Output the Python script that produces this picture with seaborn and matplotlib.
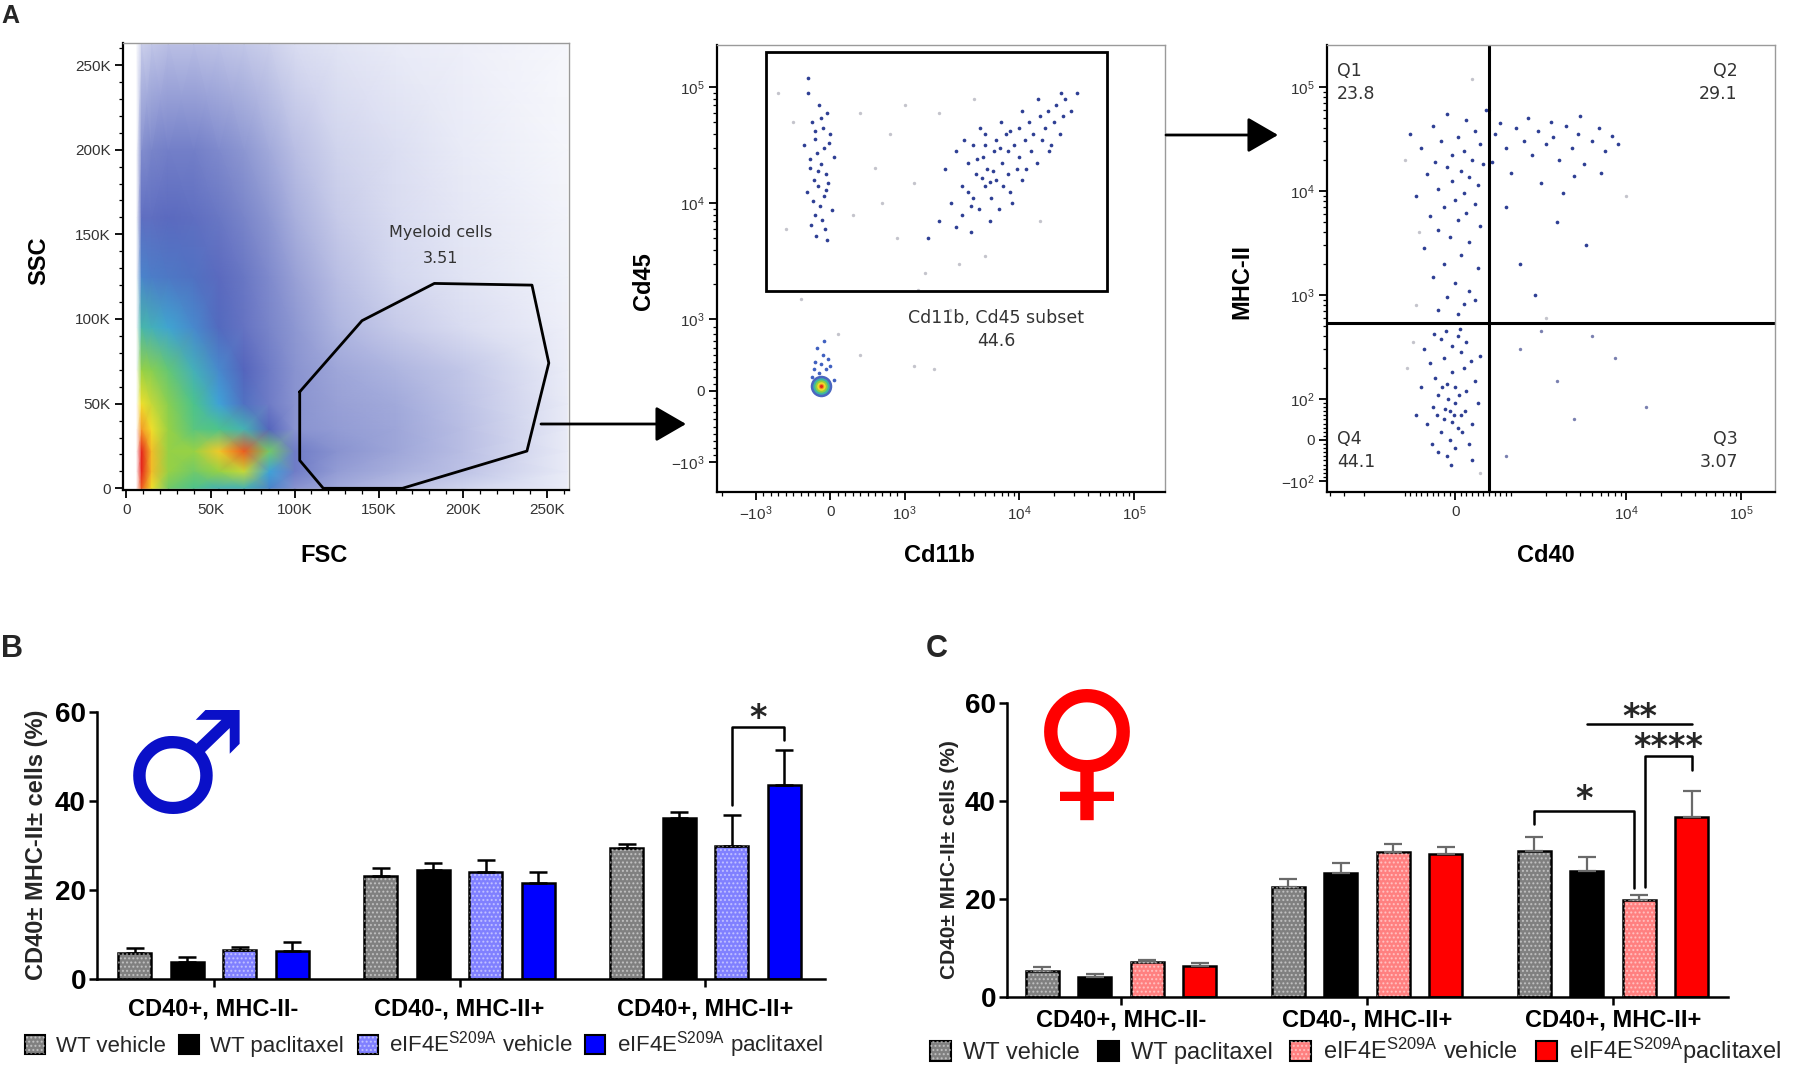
import numpy as np
import pandas as pd
import matplotlib
matplotlib.use("Agg")
import matplotlib.pyplot as plt
import seaborn as sns
from matplotlib.colors import LinearSegmentedColormap
from matplotlib.patches import Patch, Rectangle, FancyArrowPatch
from matplotlib.legend_handler import HandlerTuple
from matplotlib.ticker import FixedLocator, FixedFormatter, NullFormatter

# ===================== DATA: bar charts (panels B, C) =====================
categories = ["CD40+, MHC-II-", "CD40-, MHC-II+", "CD40+, MHC-II+"]
groups = ["WT vehicle", "WT paclitaxel", "eIF4E vehicle", "eIF4E paclitaxel"]
legend_labels_B = ["WT vehicle", "WT paclitaxel",
                   r"eIF4E$^{\mathrm{S209A}}$ vehicle", r"eIF4E$^{\mathrm{S209A}}$ paclitaxel"]
legend_labels_C = ["WT vehicle", "WT paclitaxel",
                   r"eIF4E$^{\mathrm{S209A}}$ vehicle", r"eIF4E$^{\mathrm{S209A}}$paclitaxel"]

male_wt_vehicle = [5.8, 23.1, 29.4]
male_wt_paclitaxel = [3.9, 24.6, 36.1]
male_eif_vehicle = [6.6, 24.1, 30.0]
male_eif_paclitaxel = [6.4, 21.5, 43.7]
male_wt_vehicle_sem = [1.2, 1.9, 0.9]
male_wt_paclitaxel_sem = [1.0, 1.5, 1.4]
male_eif_vehicle_sem = [0.6, 2.6, 6.8]
male_eif_paclitaxel_sem = [2.0, 2.6, 7.7]

female_wt_vehicle = [5.3, 22.5, 29.8]
female_wt_paclitaxel = [4.1, 25.4, 25.7]
female_eif_vehicle = [7.1, 29.5, 19.8]
female_eif_paclitaxel = [6.4, 29.2, 36.8]
female_wt_vehicle_sem = [0.9, 1.6, 2.9]
female_wt_paclitaxel_sem = [0.5, 2.0, 2.8]
female_eif_vehicle_sem = [0.5, 1.8, 1.0]
female_eif_paclitaxel_sem = [0.5, 1.5, 5.2]

# significance: (category idx, left hue, right hue, left leg low, top, right leg low, label, label baseline)
male_brackets = [(2, 2, 3, 39.1, 56.6, 53.7, "*", 56.4)]
female_brackets = [(2, 0, 2, 35.3, 38.0, 22.2, "*", 38.3),
                   (2, 2, 3, 22.4, 49.2, 46.3, "****", 49.0)]
female_lines = [(2, 1, 3, 55.7, "**", 55.0)]

# ===================== DATA: flow cytometry (panel A) =====================
# FSC/SSC density levels (0-10), on a coarse grid (values in K)
fsc_grid_k = [6, 9, 15, 25, 40, 55, 70, 85, 100, 125, 160, 200, 262]
ssc_grid_k = [0, 10, 22, 35, 50, 70, 95, 125, 160, 200, 262]
fsc_ssc_density = [
    [0, 9.5, 8.0, 6.5, 6.0, 5.5, 5.5, 4.5, 3.0, 2.5, 2.1, 1.6, 0.9],
    [0, 10., 8.5, 7.0, 6.5, 7.0, 7.5, 5.0, 3.5, 2.8, 2.4, 2.0, 1.0],
    [0, 10., 8.5, 7.0, 7.0, 8.3, 9.5, 6.5, 3.5, 3.0, 2.6, 2.1, 1.0],
    [0, 9.0, 8.0, 7.0, 6.2, 6.0, 5.5, 4.0, 3.0, 2.8, 2.6, 2.1, 1.0],
    [0, 8.0, 7.5, 6.8, 6.0, 5.0, 4.2, 3.5, 3.0, 2.7, 2.5, 2.0, 1.0],
    [0, 7.0, 6.8, 6.3, 5.4, 4.6, 4.0, 3.5, 3.0, 2.6, 2.3, 1.9, 0.9],
    [0, 5.6, 5.4, 5.1, 4.6, 4.1, 3.7, 3.3, 2.9, 2.3, 1.8, 1.4, 0.8],
    [0, 4.5, 4.4, 4.3, 4.2, 3.9, 3.6, 3.2, 2.7, 2.1, 1.5, 1.2, 0.7],
    [0, 3.8, 3.8, 3.9, 3.8, 3.6, 3.3, 2.9, 2.4, 1.8, 1.4, 1.1, 0.6],
    [0, 3.1, 3.3, 3.4, 3.4, 3.2, 2.9, 2.5, 2.1, 1.6, 1.3, 1.0, 0.5],
    [0, 1.7, 1.9, 2.1, 2.1, 2.0, 1.9, 1.7, 1.4, 1.2, 1.0, 0.8, 0.4],
]
myeloid_gate_fsc_k = [103, 140, 183, 241, 251, 238, 164, 117, 103, 103]
myeloid_gate_ssc_k = [57, 99, 121, 120, 74, 22, 0, 0, 16.5, 57]

# Cd11b / Cd45 events
cd45_strip = [(-300, 90000), (-150, 70000), (-50, 60000), (-250, 50000), (-100, 45000), (0, 40000),
              (-200, 36000), (-350, 32000), (-80, 30000), (-180, 27000), (50, 25000), (-120, 22000),
              (-280, 20000), (-60, 18000), (-220, 16000), (-30, 15000), (-160, 14000), (-320, 12500),
              (-90, 11500), (-240, 10500), (-140, 9500), (20, 8800), (-200, 8000), (-110, 7200),
              (-260, 6500), (-70, 6000), (-190, 5200), (-40, 4800), (-300, 120000), (-130, 55000),
              (-20, 33000), (-270, 24000), (-170, 19000), (-60, 13000), (-210, 42000)]
cd11b_cd45_myeloid_log = [
    (3.2, 3.7), (3.3, 3.85), (3.35, 4.3), (3.4, 4.0), (3.45, 4.45), (3.5, 4.15), (3.5, 3.9),
    (3.55, 4.35), (3.6, 4.05), (3.6, 4.5), (3.62, 4.25), (3.65, 3.95), (3.68, 4.4), (3.7, 4.15),
    (3.7, 4.6), (3.72, 4.3), (3.75, 4.05), (3.78, 4.45), (3.8, 4.2), (3.8, 4.55), (3.82, 3.95),
    (3.85, 4.35), (3.88, 4.6), (3.9, 4.25), (3.9, 4.45), (3.92, 4.1), (3.95, 4.5), (3.98, 4.3),
    (4.0, 4.65), (4.0, 4.4), (4.02, 4.2), (4.05, 4.55), (4.08, 4.7), (4.1, 4.45), (4.12, 4.6),
    (4.15, 4.35), (4.18, 4.75), (4.2, 4.55), (4.22, 4.65), (4.25, 4.8), (4.28, 4.5), (4.3, 4.7),
    (4.32, 4.85), (4.35, 4.6), (4.38, 4.75), (4.4, 4.9), (4.45, 4.8), (4.5, 4.95), (3.45, 3.8),
    (3.58, 3.75), (3.66, 4.65), (3.74, 3.85), (3.84, 4.7), (3.94, 4.0), (4.06, 4.3), (4.16, 4.9),
    (4.26, 4.45), (4.36, 4.95), (3.52, 4.55), (3.7, 4.5), (3.86, 4.15), (4.02, 4.8), (3.55, 4.1),
    (3.63, 4.38), (3.77, 4.28), (3.92, 4.62), (3.67, 4.22), (3.83, 4.48), (3.58, 3.98), (3.74, 4.18)]
cd11b_cd45_sparse = [(-500, 50000), (400, 60000), (800, 40000), (1200, 15000), (2000, 60000),
                     (600, 20000), (300, 8000), (900, 5000), (1500, 2500), (3000, 3000), (-400, 1500),
                     (100, 800), (400, 500), (1200, 350), (1800, 300), (-200, 400), (2500, 1200),
                     (5000, 3500), (700, 10000), (1000, 70000), (-700, 90000), (15000, 7000),
                     (4000, 80000), (1300, 1800), (-600, 6000)]
cd11b_cd45_trail = [(-150, 250), (-60, 300), (-200, 400), (-100, 500), (0, 350), (-250, 200),
                    (50, 150), (-180, 600), (-90, 700), (-30, 450), (-220, 300), (-130, 380)]
cd11b_cd45_core = (-120, 70)

# Cd40 / MHC-II events
mhc_q1 = [(-150, 55000), (200, 48000), (-400, 42000), (350, 38000), (50, 33000), (-250, 30000),
          (450, 28000), (-600, 26000), (150, 24000), (-50, 22000), (300, 20000), (-350, 19000),
          (500, 18000), (-150, 17000), (100, 15500), (-500, 14500), (250, 13500), (-50, 12500),
          (400, 11500), (-300, 10500), (150, 9500), (-700, 9000), (0, 8200), (350, 7500),
          (-200, 7000), (200, 6200), (-450, 5800), (50, 5200), (450, 4600), (-300, 4200),
          (-100, 3600), (250, 3200), (-550, 2800), (100, 2400), (-200, 2000), (400, 1800),
          (-400, 1500), (0, 1300), (250, 1100), (-150, 950), (150, 820), (-300, 720), (50, 650),
          (350, 900), (-800, 35000), (550, 60000)]
mhc_q2 = [(700, 35000), (900, 26000), (1100, 40000), (1300, 30000), (1500, 22000), (1700, 38000),
          (2000, 28000), (2300, 33000), (2600, 20000), (3000, 42000), (3400, 26000), (3800, 35000),
          (4300, 18000), (5000, 30000), (5800, 40000), (6500, 24000), (7500, 34000), (8500, 28000),
          (1000, 15000), (1800, 12000), (2800, 9500), (800, 45000), (1400, 50000), (2200, 46000),
          (4000, 52000), (650, 19000), (1200, 2000), (2500, 5000), (900, 7000), (3500, 14000),
          (6000, 15000), (1600, 1000), (4500, 3000)]
mhc_q4 = [(-90, 70), (-200, 50), (0, 90), (-300, 110), (100, 60), (-150, 140), (50, 30), (-250, 20),
          (200, 120), (-50, 180), (-400, 80), (300, 40), (-100, 0), (150, 200), (-350, 160), (0, -20),
          (-200, 250), (250, -10), (-500, 40), (100, 280), (-150, -40), (350, 150), (-50, 320),
          (-300, -30), (200, 350), (-450, 220), (50, 400), (-250, 380), (400, 90), (-600, 130),
          (0, 130), (-120, 100), (-60, 45), (-180, 75), (60, 110), (-240, 130), (120, 20), (-20, 60),
          (-320, 60), (180, 70), (-80, -60), (-420, -10), (280, 230), (-550, 300), (450, 260),
          (-700, 60), (-160, 450), (80, 470), (-380, 420), (300, -50)]
mhc_q3 = [(1200, 300), (2500, 150), (5000, 400), (900, -40), (15000, 80), (3500, 50), (1800, 450),
          (8000, 250)]
mhc_sparse = [(-900, 20000), (-700, 800), (300, 120000), (-850, 200), (2000, 600), (600, 60000),
              (-650, 4000), (10000, 9000), (450, -80), (-750, 350)]
quadrant_cd40 = 600
quadrant_mhc = 537
quadrant_labels = [("Q1", "23.8"), ("Q2", "29.1"), ("Q3", "3.07"), ("Q4", "44.1")]

# ===================== STYLE =====================
sns.set_theme(style="white")
plt.rcParams["font.family"] = ["Liberation Sans", "DejaVu Sans"]
plt.rcParams["mathtext.fontset"] = "custom"
plt.rcParams["mathtext.rm"] = "Liberation Sans"
plt.rcParams["mathtext.it"] = "Liberation Sans:italic"
plt.rcParams["mathtext.bf"] = "Liberation Sans:bold"
plt.rcParams["hatch.linewidth"] = 1.0
NARROW = ["Liberation Sans Narrow", "Liberation Sans", "DejaVu Sans"]

W, H = 1796, 1065
fig = plt.figure(figsize=(W / 100, H / 100), dpi=100)


def ax_px(l, t, r, b):
    return fig.add_axes([l / W, 1 - b / H, (r - l) / W, (b - t) / H])


flow_colors = ["#ffffff", "#e9ebf7", "#bdc2e6", "#8892d0", "#5565bd", "#3fa2d8",
               "#4dc38c", "#95d146", "#f1df2b", "#f49a26", "#e5231b"]
flow_cmap = LinearSegmentedColormap.from_list(
    "flow", list(zip(np.linspace(0, 1, len(flow_colors)), flow_colors)))
NAVY = "#2e3f94"
LGRAY = "#c4c4cc"


def style_flow(ax):
    for s in ["left", "bottom"]:
        ax.spines[s].set_color("black")
        ax.spines[s].set_linewidth(1.6)
    for s in ["top", "right"]:
        ax.spines[s].set_color("#9a9a9a")
        ax.spines[s].set_linewidth(1.0)
    ax.tick_params(which="major", direction="out", length=6, width=1.3, colors="black",
                   labelcolor="#333333", labelsize=11, pad=3, left=True, bottom=True)
    ax.tick_params(which="minor", direction="out", length=3, width=0.9, colors="black",
                   left=True, bottom=True)
    ax.set_facecolor("white")


def symlog_minor(linthresh, top_decade):
    lin = [k * linthresh / 10 for k in range(-9, 10) if k != 0]
    logs = [m * 10 ** d for d in range(int(np.log10(linthresh)), top_decade + 1) for m in range(2, 10)]
    return lin + logs + [-m * linthresh for m in range(2, 5)]


def scat(ax, pts, color, s=6, log=False):
    arr = np.array(pts, dtype=float)
    if log:
        arr = 10 ** arr
    sns.scatterplot(x=arr[:, 0], y=arr[:, 1], color=color, s=s, linewidth=0, ax=ax, legend=False)


lab_kw = dict(fontsize=17, fontweight="bold", color="black")

# ---------------- Panel A.1 : FSC vs SSC ----------------
ax1 = ax_px(123, 43, 569, 490)
ax1.pcolormesh(np.array(fsc_grid_k) * 1000, np.array(ssc_grid_k) * 1000, np.array(fsc_ssc_density),
               shading="gouraud", cmap=flow_cmap, vmin=0, vmax=10, rasterized=True)
ax1.plot(np.array(myeloid_gate_fsc_k) * 1000, np.array(myeloid_gate_ssc_k) * 1000, color="black", lw=2)
ax1.set_xlim(-2000, 263000)
ax1.set_ylim(-1000, 263000)
major = [0, 50000, 100000, 150000, 200000, 250000]
major_lab = ["0", "50K", "100K", "150K", "200K", "250K"]
for axis in (ax1.xaxis, ax1.yaxis):
    axis.set_major_locator(FixedLocator(major))
    axis.set_major_formatter(FixedFormatter(major_lab))
    axis.set_minor_locator(FixedLocator(list(range(0, 261000, 10000))))
style_flow(ax1)
ax1.set_xlabel("FSC", **lab_kw)
ax1.set_ylabel("SSC", **lab_kw)
ax1.xaxis.set_label_coords(0.451, -0.121)
ax1.yaxis.set_label_coords(-0.164, 0.512)
ax1.text(0.713, 0.577, "Myeloid cells", transform=ax1.transAxes, ha="center", va="center",
         fontsize=11.5, color="#333333", family="DejaVu Sans")
ax1.text(0.713, 0.519, "3.51", transform=ax1.transAxes, ha="center", va="center",
         fontsize=11.5, color="#333333", family="DejaVu Sans")

# ---------------- Panel A.2 : Cd11b vs Cd45 ----------------
ax2 = ax_px(717, 45, 1165, 492)
ax2.set_xscale("symlog", linthresh=1000, linscale=0.583)
ax2.set_yscale("symlog", linthresh=1000, linscale=0.555)
scat(ax2, cd11b_cd45_sparse, LGRAY, s=6)
scat(ax2, cd45_strip, NAVY, s=7)
scat(ax2, cd11b_cd45_myeloid_log, NAVY, s=7, log=True)
scat(ax2, cd11b_cd45_trail, "#4060c0", s=7)
for col, sz in [("#4a66c0", 240), ("#3fb6a0", 140), ("#8fcf40", 80), ("#f2d82a", 38),
                ("#f08a22", 14), ("#e02a1a", 5)]:
    ax2.scatter([cd11b_cd45_core[0]], [cd11b_cd45_core[1]], s=sz, color=col, linewidths=0, zorder=3)
ax2.add_patch(Rectangle((-870, 1750), 58000 + 870, 200000 - 1750, fill=False, ec="black", lw=2))
ax2.set_xlim(-2190, 186000)
ax2.set_ylim(-1800, 232000)
ax2.xaxis.set_major_locator(FixedLocator([-1000, 0, 1000, 10000, 100000]))
ax2.xaxis.set_major_formatter(FixedFormatter([r"$-10^3$", "0", r"$10^3$", r"$10^4$", r"$10^5$"]))
ax2.xaxis.set_minor_locator(FixedLocator(symlog_minor(1000, 4)))
ax2.yaxis.set_major_locator(FixedLocator([-1000, 0, 1000, 10000, 100000]))
ax2.yaxis.set_major_formatter(FixedFormatter([r"$-10^3$", "0", r"$10^3$", r"$10^4$", r"$10^5$"]))
ax2.yaxis.set_minor_locator(FixedLocator(symlog_minor(1000, 4)))
ax2.xaxis.set_minor_formatter(NullFormatter())
ax2.yaxis.set_minor_formatter(NullFormatter())
style_flow(ax2)
ax2.set_xlabel("Cd11b", **lab_kw)
ax2.set_ylabel("Cd45", **lab_kw)
ax2.xaxis.set_label_coords(0.496, -0.116)
ax2.yaxis.set_label_coords(-0.138, 0.472)
ax2.text(0.623, 0.389, "Cd11b, Cd45 subset", transform=ax2.transAxes, ha="center", va="center",
         fontsize=12.5, color="#333333", family="DejaVu Sans")
ax2.text(0.623, 0.338, "44.6", transform=ax2.transAxes, ha="center", va="center",
         fontsize=12.5, color="#333333", family="DejaVu Sans")

# ---------------- Panel A.3 : Cd40 vs MHC-II ----------------
ax3 = ax_px(1327, 45, 1775, 492)
ax3.set_xscale("symlog", linthresh=1000, linscale=0.441)
ax3.set_yscale("symlog", linthresh=100, linscale=0.355)
scat(ax3, mhc_sparse, LGRAY, s=6)
scat(ax3, mhc_q1, NAVY, s=7)
scat(ax3, mhc_q2, NAVY, s=7)
scat(ax3, mhc_q4, NAVY, s=7)
scat(ax3, mhc_q3, "#7a80b0", s=6)
ax3.set_xlim(-4230, 198000)
ax3.set_ylim(-127.6, 253000)
ax3.axvline(quadrant_cd40, color="black", lw=2.2)
ax3.axhline(quadrant_mhc, color="black", lw=2.2)
ax3.xaxis.set_major_locator(FixedLocator([0, 10000, 100000]))
ax3.xaxis.set_major_formatter(FixedFormatter(["0", r"$10^4$", r"$10^5$"]))
ax3.xaxis.set_minor_locator(FixedLocator(symlog_minor(1000, 4) + [1000]))
ax3.yaxis.set_major_locator(FixedLocator([-100, 0, 100, 1000, 10000, 100000]))
ax3.yaxis.set_major_formatter(FixedFormatter([r"$-10^2$", "0", r"$10^2$", r"$10^3$", r"$10^4$", r"$10^5$"]))
ax3.yaxis.set_minor_locator(FixedLocator(symlog_minor(100, 4)))
ax3.xaxis.set_minor_formatter(NullFormatter())
ax3.yaxis.set_minor_formatter(NullFormatter())
style_flow(ax3)
ax3.set_xlabel("Cd40", **lab_kw)
ax3.set_ylabel("MHC-II", **lab_kw)
ax3.xaxis.set_label_coords(0.489, -0.116)
ax3.yaxis.set_label_coords(-0.165, 0.472)
qpos = {"Q1": (0.022, 0.942, "left"), "Q2": (0.917, 0.942, "right"),
        "Q3": (0.917, 0.119, "right"), "Q4": (0.022, 0.119, "left")}
for name, val in quadrant_labels:
    qx, qy, ha = qpos[name]
    ax3.text(qx, qy, name, transform=ax3.transAxes, ha=ha, va="center", fontsize=12.5,
             color="#333333", family="DejaVu Sans")
    ax3.text(qx, qy - 0.052, val, transform=ax3.transAxes, ha=ha, va="center", fontsize=12.5,
             color="#333333", family="DejaVu Sans")

# arrows between gates
for (xa, ya), (xb, yb) in [((541, 424), (686, 424)), ((1166, 135), (1278, 135))]:
    fig.add_artist(FancyArrowPatch((xa / W, 1 - ya / H), (xb / W, 1 - yb / H),
                                   transform=fig.transFigure, arrowstyle="-|>,head_length=0.95,head_width=0.55",
                                   mutation_scale=20, color="black", lw=2, shrinkA=0, shrinkB=0))


# ===================== bar charts =====================
def bar_panel(ax, series, sems, colors, hatched, err_color, err_lw):
    df = pd.DataFrame({
        "category": np.tile(categories, len(groups)),
        "group": np.repeat(groups, len(categories)),
        "value": np.concatenate(series),
    })
    sns.barplot(data=df, x="category", y="value", hue="group", order=categories, hue_order=groups,
                palette=dict(zip(groups, colors)), width=0.854, gap=0.37, saturation=1,
                edgecolor="black", linewidth=1.8, errorbar=None, legend=False, ax=ax)
    bars = sorted(ax.patches, key=lambda p: p.get_x())
    for ci in range(len(categories)):
        for hi in range(len(groups)):
            b = bars[ci * len(groups) + hi]
            xc = b.get_x() + b.get_width() / 2
            ax.errorbar([xc], [series[hi][ci]], yerr=[[0], [sems[hi][ci]]], fmt="none",
                        ecolor=err_color, elinewidth=err_lw, capsize=6.5, capthick=err_lw, zorder=1)
            if hatched[hi]:
                ax.add_patch(Rectangle((b.get_x(), 0), b.get_width(), b.get_height(), fill=False,
                                       hatch="....", edgecolor=(1, 1, 1, 0.45), lw=0, zorder=2.5))
    ax.set_ylim(0, 60)
    ax.set_yticks([0, 20, 40, 60])
    ax.set_xlabel("")
    for s in ["top", "right"]:
        ax.spines[s].set_visible(False)
    for s in ["left", "bottom"]:
        ax.spines[s].set_color("black")
        ax.spines[s].set_linewidth(1.8)
    ax.tick_params(axis="y", direction="out", length=6, width=1.8, left=True, colors="black", pad=2)
    ax.tick_params(axis="x", direction="out", length=6, width=1.8, bottom=True, colors="black", pad=7)
    for lbl in ax.get_yticklabels():
        lbl.set_family(NARROW)
        lbl.set_fontweight("bold")
        lbl.set_fontsize(20)
    for lbl in ax.get_xticklabels():
        lbl.set_fontweight("bold")
        lbl.set_fontsize(17)
    ax.set_facecolor("white")
    return bars


def bar_x(bars, ci, hi):
    b = bars[ci * len(groups) + hi]
    return b.get_x() + b.get_width() / 2


def legend_handles(colors, hatched):
    hs = []
    for c, h in zip(colors, hatched):
        base = Patch(facecolor=c, edgecolor="black", lw=1.5)
        if h:
            hs.append((base, Patch(fill=False, hatch="....", edgecolor=(1, 1, 1, 0.45), lw=0)))
        else:
            hs.append(base)
    return hs


STAR_KW = dict(ha="center", va="baseline", fontsize=24, fontweight="bold", family="DejaVu Sans",
               clip_on=False)

# ---------------- Panel B (male) ----------------
colors_B = ["#808080", "#000000", "#8080ff", "#0000ff"]
hatched = [True, False, True, False]
axB = ax_px(97, 712, 825, 979)
barsB = bar_panel(axB,
                  [male_wt_vehicle, male_wt_paclitaxel, male_eif_vehicle, male_eif_paclitaxel],
                  [male_wt_vehicle_sem, male_wt_paclitaxel_sem, male_eif_vehicle_sem, male_eif_paclitaxel_sem],
                  colors_B, hatched, "black", 1.8)
axB.set_xlim(-0.474, 2.486)
axB.set_ylabel("CD40\u00b1 MHC-II\u00b1 cells (%)", fontsize=17, fontweight="bold")
axB.yaxis.set_label_coords(-0.067, 0.502)
for ci, h1, h2, yl1, top, yl2, lab, ly in male_brackets:
    x1, x2 = bar_x(barsB, ci, h1), bar_x(barsB, ci, h2)
    axB.plot([x1, x1, x2, x2], [yl1, top, top, yl2], color="black", lw=1.8, clip_on=False)
    axB.text((x1 + x2) / 2, ly, lab, **STAR_KW)
axB.text(0.122, 0.775, "\u2642", transform=axB.transAxes, ha="center", va="center",
         fontsize=102, color="#0a10c8", family="DejaVu Sans", fontweight="bold")
fig.legend(legend_handles(colors_B, hatched), legend_labels_B, loc="center left",
           bbox_to_anchor=(25 / W, 1 - 1045 / H), ncol=4, frameon=False, fontsize=16,
           handlelength=0.9, handleheight=0.9, handletextpad=0.5, columnspacing=0.6,
           borderpad=0, borderaxespad=0, handler_map={tuple: HandlerTuple(ndivide=1)})

# ---------------- Panel C (female) ----------------
colors_C = ["#808080", "#000000", "#ff8080", "#ff0000"]
axC = ax_px(1007, 703, 1728, 997)
barsC = bar_panel(axC,
                  [female_wt_vehicle, female_wt_paclitaxel, female_eif_vehicle, female_eif_paclitaxel],
                  [female_wt_vehicle_sem, female_wt_paclitaxel_sem, female_eif_vehicle_sem, female_eif_paclitaxel_sem],
                  colors_C, hatched, "#6a6a6a", 1.6)
axC.set_xlim(-0.463, 2.467)
axC.set_ylabel("CD40\u00b1 MHC-II\u00b1 cells (%)", fontsize=15, fontweight="bold")
axC.yaxis.set_label_coords(-0.067, 0.469)
axC.tick_params(axis="x", pad=2)
for k, (ci, h1, h2, yl1, top, yl2, lab, ly) in enumerate(female_brackets):
    x1, x2 = bar_x(barsC, ci, h1), bar_x(barsC, ci, h2)
    if k == 0:
        x2 += -0.022
    else:
        x1 += 0.022
    axC.plot([x1, x1, x2, x2], [yl1, top, top, yl2], color="black", lw=1.8, clip_on=False)
    axC.text((x1 + x2) / 2, ly, lab, **STAR_KW)
for ci, h1, h2, yline, lab, ly in female_lines:
    x1, x2 = bar_x(barsC, ci, h1), bar_x(barsC, ci, h2)
    axC.plot([x1, x2], [yline, yline], color="black", lw=1.8, clip_on=False)
    axC.text((x1 + x2) / 2, ly, lab, **STAR_KW)
axC.text(0.111, 0.812, "\u2640", transform=axC.transAxes, ha="center", va="center",
         fontsize=110, color="#ff0000", family="DejaVu Sans", fontweight="bold")
fig.legend(legend_handles(colors_C, hatched), legend_labels_C, loc="center left",
           bbox_to_anchor=(930 / W, 1 - 1051 / H), ncol=4, frameon=False, fontsize=17,
           handlelength=0.9, handleheight=0.9, handletextpad=0.5, columnspacing=0.75,
           borderpad=0, borderaxespad=0, handler_map={tuple: HandlerTuple(ndivide=1)})

# panel letters
fig.text(1 / W, 1 - 4 / H, "A", ha="left", va="top", fontsize=18, fontweight="bold")
fig.text(1 / W, 1 - 634 / H, "B", ha="left", va="top", fontsize=22, fontweight="bold", family=NARROW)
fig.text(926 / W, 1 - 634 / H, "C", ha="left", va="top", fontsize=22, fontweight="bold", family=NARROW)

fig.savefig("out.png", dpi=100, facecolor="white")
